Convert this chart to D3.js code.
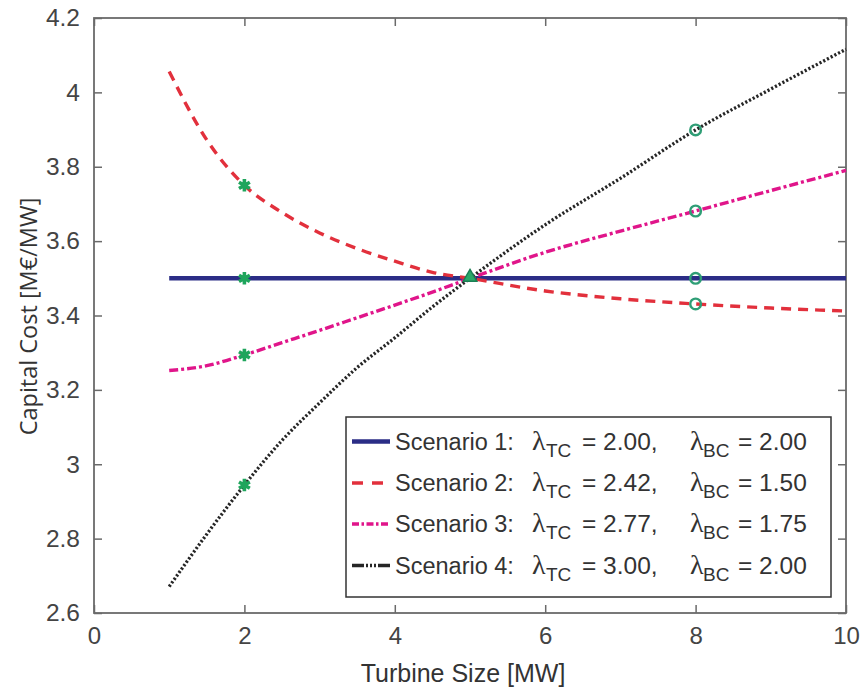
<!DOCTYPE html>
<html><head><meta charset="utf-8">
<script src="https://cdn.jsdelivr.net/npm/d3@7"></script>
<style>
html,body{margin:0;padding:0;background:#fff;}
svg{display:block;}
</style></head>
<body>
<svg id="chart" width="861" height="687"></svg>
<script>
// ---- data ----
const turbineSize = [1, 1.5, 2, 2.5, 3, 3.5, 4, 4.5, 5, 6, 7, 8, 9, 10];
const scenario1 = [3.5, 3.5, 3.5, 3.5, 3.5, 3.5, 3.5, 3.5, 3.5, 3.5, 3.5, 3.5, 3.5, 3.5];
const scenario2 = [4.056, 3.872, 3.75, 3.677, 3.622, 3.58, 3.546, 3.516, 3.5, 3.466, 3.445, 3.431, 3.42, 3.412];
const scenario3 = [3.252, 3.265, 3.294, 3.327, 3.36, 3.394, 3.428, 3.463, 3.5, 3.57, 3.627, 3.681, 3.736, 3.79];
const scenario4 = [2.671, 2.812, 2.944, 3.064, 3.165, 3.26, 3.34, 3.423, 3.5, 3.644, 3.769, 3.899, 4.009, 4.116];
const scenarioNames = ["Scenario 1:", "Scenario 2:", "Scenario 3:", "Scenario 4:"];
const lambdaTC = ["2.00", "2.42", "2.77", "3.00"];
const lambdaBC = ["2.00", "1.50", "1.75", "2.00"];
const starX = 2, triX = 5, circX = 8;
const xTicks = [0, 2, 4, 6, 8, 10];
const yTicks = [2.6, 2.8, 3, 3.2, 3.4, 3.6, 3.8, 4, 4.2];
const xLabel = "Turbine Size [MW]";
const yLabel = "Capital Cost [M€/MW]";

// ---- layout ----
const L = 94, R = 846, T = 18, B = 613;
const svg = d3.select("#chart");
const x = d3.scaleLinear().domain([0, 10]).range([L, R]);
const y = d3.scaleLinear().domain([2.6, 4.2]).range([B, T]);

const axisColor = "#6a6a6a";
const textColor = "#444";
const sans = "'Liberation Sans', Arial, sans-serif";

// series styles
const series = [
  {vals: scenario1, color: "#2b2d86", width: 4.4, dash: null, legendDash: null},
  {vals: scenario2, color: "#e2303c", width: 3.4, dash: "10,7", legendDash: "11,9"},
  {vals: scenario3, color: "#e0158a", width: 3.4, dash: "9,3,3,3", legendDash: "7,2.5,2.5,2.5"},
  {vals: scenario4, color: "#262626", width: 3.3, dash: "2.2,2", legendDash: "12,2,2,2,2,2,2,2,12"}
];

// ---- axes box ----
const gAxes = svg.append("g");
function drawAxis(axis, tx, ty) {
  const g = gAxes.append("g").attr("transform", `translate(${tx},${ty})`).call(axis);
  g.select(".domain").remove();
  g.selectAll("line").attr("stroke", axisColor).attr("stroke-width", 1.5);
  return g;
}
const gxb = drawAxis(d3.axisBottom(x).tickValues(xTicks).tickSizeInner(-8).tickSizeOuter(0).tickPadding(14).tickFormat(d3.format("d")), 0, B);
gxb.selectAll("text").attr("font-family", sans).attr("font-size", 24).attr("fill", textColor);
drawAxis(d3.axisTop(x).tickValues(xTicks).tickSizeInner(-8).tickSizeOuter(0).tickFormat(""), 0, T);
const gyl = drawAxis(d3.axisLeft(y).tickValues(yTicks).tickSizeInner(-8).tickSizeOuter(0).tickPadding(14).tickFormat(d => d3.format("")(+d.toFixed(1))), L, 0);
gyl.selectAll("text").attr("font-family", sans).attr("font-size", 24.5).attr("fill", textColor);
drawAxis(d3.axisRight(y).tickValues(yTicks).tickSizeInner(-8).tickSizeOuter(0).tickFormat(""), R, 0);

gAxes.append("rect").attr("x", L).attr("y", T).attr("width", R - L).attr("height", B - T)
  .attr("fill", "none").attr("stroke", axisColor).attr("stroke-width", 1.8);

// ---- lines ----
const line = d3.line().x((d, i) => x(turbineSize[i])).y(d => y(d)).curve(d3.curveMonotoneX);
const gLines = svg.append("g");
series.forEach(s => {
  gLines.append("path").datum(s.vals).attr("d", line)
    .attr("fill", "none").attr("stroke", s.color).attr("stroke-width", s.width)
    .attr("stroke-dasharray", s.dash).attr("stroke-linecap", "butt");
});

// ---- markers ----
const green = "#1fa55c";
const ringGreen = "#2f9e76";
const gM = svg.append("g");
const idxStar = turbineSize.indexOf(starX), idxTri = turbineSize.indexOf(triX), idxCirc = turbineSize.indexOf(circX);
series.forEach(s => {
  gM.append("path").attr("d", d3.symbol().type(d3.symbolAsterisk).size(110)())
    .attr("transform", `translate(${x(starX)},${y(s.vals[idxStar])})`)
    .attr("stroke", green).attr("stroke-width", 3.6).attr("fill", "none");
  gM.append("circle").attr("cx", x(starX)).attr("cy", y(s.vals[idxStar])).attr("r", 3.2).attr("fill", green);
  gM.append("path").attr("d", d3.symbol().type(d3.symbolCircle).size(90)())
    .attr("transform", `translate(${x(circX)},${y(s.vals[idxCirc])})`)
    .attr("stroke", ringGreen).attr("stroke-width", 2.4).attr("fill", "none");
});
gM.append("path").attr("d", d3.symbol().type(d3.symbolTriangle).size(80)())
  .attr("transform", `translate(${x(triX)},${y(scenario1[idxTri]) - 1})`)
  .attr("stroke", "#1b7f55").attr("stroke-width", 1.5).attr("fill", "#2aa868");

// ---- axis labels ----
svg.append("text").attr("x", 463).attr("y", 682).attr("text-anchor", "middle")
  .attr("font-family", sans).attr("font-size", 25).attr("fill", "#333").text(xLabel);
svg.append("text").attr("transform", `translate(37,${(T + B) / 2 + 1}) rotate(-90)`).attr("text-anchor", "middle")
  .attr("font-family", "'Open Sans', 'Noto Sans', sans-serif").attr("font-size", 23.5).attr("fill", "#333").text(yLabel);

// ---- legend ----
const lg = svg.append("g");
lg.append("rect").attr("x", 346).attr("y", 417).attr("width", 485).attr("height", 180)
  .attr("fill", "#fff").attr("stroke", "#333").attr("stroke-width", 1.5);
const rowBase = [449.5, 491, 532, 573.5];
const serif = "'Liberation Serif', 'DejaVu Serif', serif";
series.forEach((s, i) => {
  const by = rowBase[i];
  lg.append("line").attr("x1", 352).attr("x2", 390).attr("y1", by - 8).attr("y2", by - 8)
    .attr("stroke", s.color).attr("stroke-width", s.width).attr("stroke-dasharray", s.legendDash);
  const t = (xx, yy, str, size, fam) => lg.append("text").attr("x", xx).attr("y", yy)
    .attr("font-family", fam || sans).attr("font-size", size).attr("fill", "#333").text(str);
  t(395, by, scenarioNames[i], 23.5);
  t(532, by, "λ", 28, serif);
  t(546, by + 7, "TC", 19);
  t(582, by, "= " + lambdaTC[i] + ",", 24.5);
  t(690, by, "λ", 28, serif);
  t(703, by + 7, "BC", 19);
  t(738, by, "= " + lambdaBC[i], 24.5);
});
</script>
</body></html>
